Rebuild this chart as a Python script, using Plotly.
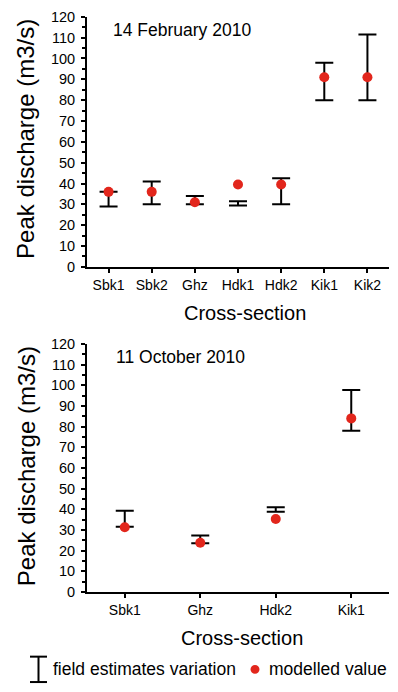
import plotly.graph_objects as go

# ---------------- data ----------------
top_categories = ["Sbk1", "Sbk2", "Ghz", "Hdk1", "Hdk2", "Kik1", "Kik2"]
top_low = [29, 30, 30, 29.5, 30, 80, 80]
top_high = [36, 41, 34, 31.5, 42.5, 98, 111.5]
top_model = [36, 36, 31, 39.5, 39.5, 91, 91]

bottom_categories = ["Sbk1", "Ghz", "Hdk2", "Kik1"]
bottom_low = [31.5, 23.5, 38.8, 78]
bottom_high = [39.3, 27.3, 41, 97.8]
bottom_model = [31.3, 23.8, 35.3, 84]

y_ticks = [0, 10, 20, 30, 40, 50, 60, 70, 80, 90, 100, 110, 120]

W, H = 398, 692
FONT = "Liberation Sans, Arial, Helvetica, sans-serif"
RED = "#e2261c"


def px(x):
    return x / W


def py(y):
    return 1 - y / H


fig = go.Figure()


def add_panel(cats, lo, hi, model, xa, ya):
    mid = [(a + b) / 2 for a, b in zip(lo, hi)]
    half = [(b - a) / 2 for a, b in zip(lo, hi)]
    fig.add_trace(go.Scatter(
        x=cats, y=mid, mode="markers", xaxis=xa, yaxis=ya,
        marker=dict(size=1, opacity=0),
        error_y=dict(type="data", array=half, visible=True,
                     color="black", thickness=2, width=9),
        showlegend=False, hoverinfo="skip"))
    fig.add_trace(go.Scatter(
        x=cats, y=model, mode="markers", xaxis=xa, yaxis=ya,
        marker=dict(size=10, color=RED),
        showlegend=False))


add_panel(top_categories, top_low, top_high, top_model, "x", "y")
add_panel(bottom_categories, bottom_low, bottom_high, bottom_model, "x2", "y2")

xdom = [px(87), px(389)]
ycommon = dict(
    range=[0, 120], tickvals=y_ticks, ticks="outside", ticklen=4, tickwidth=1.5,
    tickcolor="black", showline=True, linewidth=2, linecolor="black",
    showgrid=False, zeroline=False, tickfont=dict(size=14.5, color="black", family=FONT),
    ticklabelstandoff=3,
    minor=dict(dtick=5, tick0=0, ticks="outside", ticklen=3, tickwidth=1.5,
               tickcolor="black", showgrid=False),
    fixedrange=True,
)
xcommon = dict(
    type="category", ticks="outside", ticklen=4, tickwidth=1.5, tickcolor="black",
    showline=True, linewidth=2, linecolor="black", showgrid=False, zeroline=False,
    tickfont=dict(size=14, color="black", family=FONT), fixedrange=True,
)

fig.update_layout(
    width=W, height=H, autosize=False,
    margin=dict(l=0, r=0, t=0, b=0),
    paper_bgcolor="white", plot_bgcolor="white",
    font=dict(family=FONT, color="black"),
    showlegend=False,
    xaxis=dict(domain=xdom, anchor="y", range=[-0.5, len(top_categories) - 0.5], **xcommon),
    yaxis=dict(domain=[py(265), py(9)], anchor="x", **ycommon),
    xaxis2=dict(domain=xdom, anchor="y2", range=[-0.5, len(bottom_categories) - 0.5], **xcommon),
    yaxis2=dict(domain=[py(597.7), py(344)], anchor="x2", **ycommon),
)

ann = []
# axis titles
for yc in (134, 469):
    ann.append(dict(text="Peak discharge (m3/s)", x=px(26), y=py(yc), xref="paper", yref="paper",
                    textangle=-90, showarrow=False, xanchor="center", yanchor="middle",
                    font=dict(size=24, family=FONT, color="black")))
for yc, xc in ((312.5, 244.5), (645, 242)):
    ann.append(dict(text="Cross-section", x=px(xc), y=py(yc), xref="paper", yref="paper",
                    showarrow=False, xanchor="center", yanchor="middle",
                    font=dict(size=20, family=FONT, color="black")))
# panel labels
ann.append(dict(text="14 February 2010", x=px(111), y=py(23), xref="paper", yref="paper",
                showarrow=False, xanchor="left", yanchor="middle",
                font=dict(size=17.5, family=FONT, color="black")))
ann.append(dict(text="11 October 2010", x=px(114), y=py(357), xref="paper", yref="paper",
                showarrow=False, xanchor="left", yanchor="middle",
                font=dict(size=17.5, family=FONT, color="black")))
# legend texts
ann.append(dict(text="field estimates variation", x=px(51), y=py(677), xref="paper", yref="paper",
                showarrow=False, xanchor="left", yanchor="middle",
                font=dict(size=17.5, family=FONT, color="black")))
ann.append(dict(text="modelled value", x=px(267), y=py(677), xref="paper", yref="paper",
                showarrow=False, xanchor="left", yanchor="middle",
                font=dict(size=17.5, family=FONT, color="black")))
fig.update_layout(annotations=ann)

# legend symbols
line = dict(color="black", width=2)
shapes = [
    dict(type="line", xref="paper", yref="paper", x0=px(38.5), x1=px(38.5), y0=py(664), y1=py(690), line=line),
    dict(type="line", xref="paper", yref="paper", x0=px(30), x1=px(47), y0=py(664), y1=py(664), line=line),
    dict(type="line", xref="paper", yref="paper", x0=px(30), x1=px(47), y0=py(690), y1=py(690), line=line),
    dict(type="circle", xref="paper", yref="paper", x0=px(250.5), x1=px(259.5), y0=py(681.5), y1=py(672.5),
         fillcolor=RED, line=dict(width=0)),
]
fig.update_layout(shapes=shapes)

fig.write_html(
    "out.html",
    config={"displayModeBar": False},
    post_script="document.body.style.margin='0';document.body.style.overflow='hidden';",
)
